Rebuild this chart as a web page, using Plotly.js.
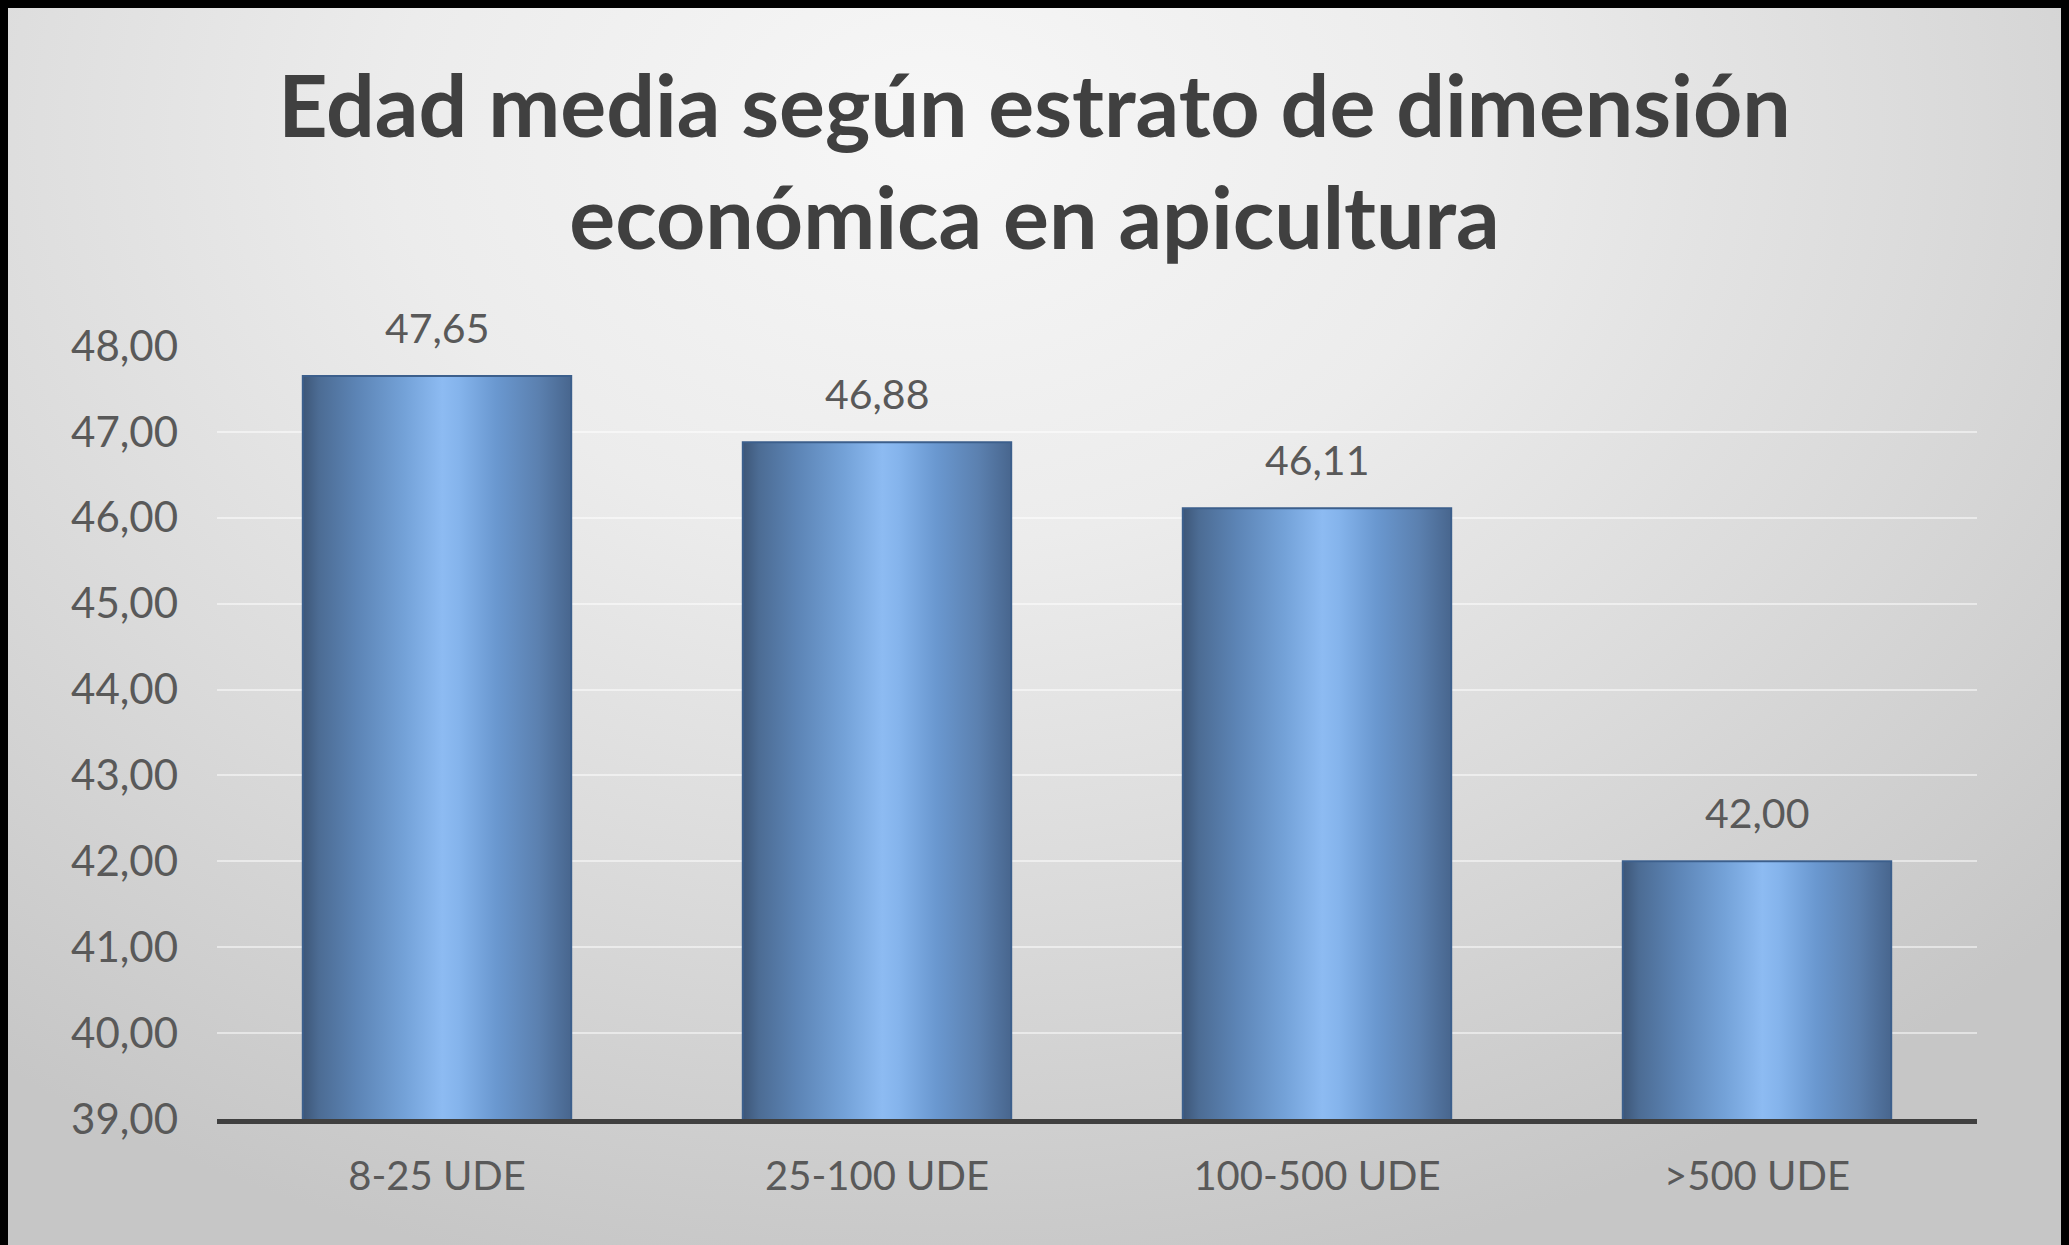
<!DOCTYPE html>
<html>
<head>
<meta charset="utf-8">
<script src="https://cdn.plot.ly/plotly-3.0.1.min.js"></script>
<style>
  html, body { margin:0; padding:0; width:2069px; height:1245px; overflow:hidden; background:#000; }
  #frame { position:absolute; left:8px; top:8px; width:2053px; height:1237px;
    background: radial-gradient(ellipse 75% 95% at 45% 10%, #f7f7f7 0%, #ececec 35%, #dbdbdb 65%, #c6c6c6 100%); }
  #chart { position:absolute; left:0; top:0; width:2069px; height:1245px; }
</style>
</head>
<body>
<div id="frame"></div>
<div id="chart"></div>
<script>
const categories = ['8-25 UDE', '25-100 UDE', '100-500 UDE', '>500 UDE'];
const edadMedia = [47.65, 46.88, 46.11, 42.00];
const yTicks = [39, 40, 41, 42, 43, 44, 45, 46, 47, 48];
const chartTitle = 'Edad media según estrato de dimensión<br>económica en apicultura';

const FONT = 'Lato, "Open Sans", sans-serif';
const TXT = '#595959';

const trace = {
  type: 'bar',
  x: categories,
  y: edadMedia,
  marker: { color: '#6a96c8', line: { color: '#3c5f8c', width: 2 } },
  width: 0.61,
  hoverinfo: 'skip'
};

const annotations = categories.map((c, i) => ({
  x: c, y: edadMedia[i], xref: 'x', yref: 'y',
  text: edadMedia[i].toFixed(2).replace('.', ','),
  showarrow: false, yanchor: 'bottom', yshift: 22,
  font: { family: FONT, size: 41, color: TXT }
}));

const layout = {
  width: 2069, height: 1245,
  paper_bgcolor: 'rgba(0,0,0,0)',
  plot_bgcolor: 'rgba(0,0,0,0)',
  separators: ',.',
  margin: { l: 217, r: 92, t: 346, b: 126, pad: 0 },
  title: {
    text: chartTitle,
    xref: 'container', x: 0.5, xanchor: 'center',
    yref: 'container', y: 0.89, yanchor: 'top',
    font: { family: FONT, size: 86, color: '#404040', weight: 'bold' }
  },
  xaxis: {
    type: 'category',
    range: [-0.5, 3.5],
    showgrid: false,
    showline: true, linecolor: '#404040', linewidth: 5,
    ticks: '', ticklabelstandoff: 18,
    tickfont: { family: FONT, size: 40, color: TXT },
    zeroline: false
  },
  yaxis: {
    range: [39, 48],
    tickvals: yTicks,
    tickformat: '.2f',
    showgrid: true, gridcolor: 'rgba(255,255,255,0.5)', gridwidth: 2,
    showline: false, zeroline: false,
    ticks: '', ticklabelstandoff: 38,
    tickfont: { family: FONT, size: 42, color: TXT }
  },
  annotations: annotations,
  showlegend: false
};

Plotly.newPlot('chart', [trace], layout, { displayModeBar: false, staticPlot: true }).then(gd => {
  const svg = gd.querySelector('svg.main-svg');
  let defs = svg.querySelector('defs');
  const NS = 'http://www.w3.org/2000/svg';
  const grad = document.createElementNS(NS, 'linearGradient');
  grad.setAttribute('id', 'barGrad');
  grad.setAttribute('x1', '0'); grad.setAttribute('x2', '1');
  grad.setAttribute('y1', '0'); grad.setAttribute('y2', '0');
  const stops = [[0, '#3d5677'], [0.06, '#4c6c94'], [0.2, '#5c84b5'], [0.38, '#74a2d8'],
                 [0.52, '#8dbbf2'], [0.58, '#85b4ec'], [0.72, '#6a98d0'], [0.88, '#5b80af'], [1, '#48668e']];
  stops.forEach(([o, c]) => {
    const s = document.createElementNS(NS, 'stop');
    s.setAttribute('offset', o); s.setAttribute('stop-color', c);
    grad.appendChild(s);
  });
  defs.appendChild(grad);
  gd.querySelectorAll('.bars .point path').forEach(p => { p.style.fill = 'url(#barGrad)'; });
});
</script>
</body>
</html>
